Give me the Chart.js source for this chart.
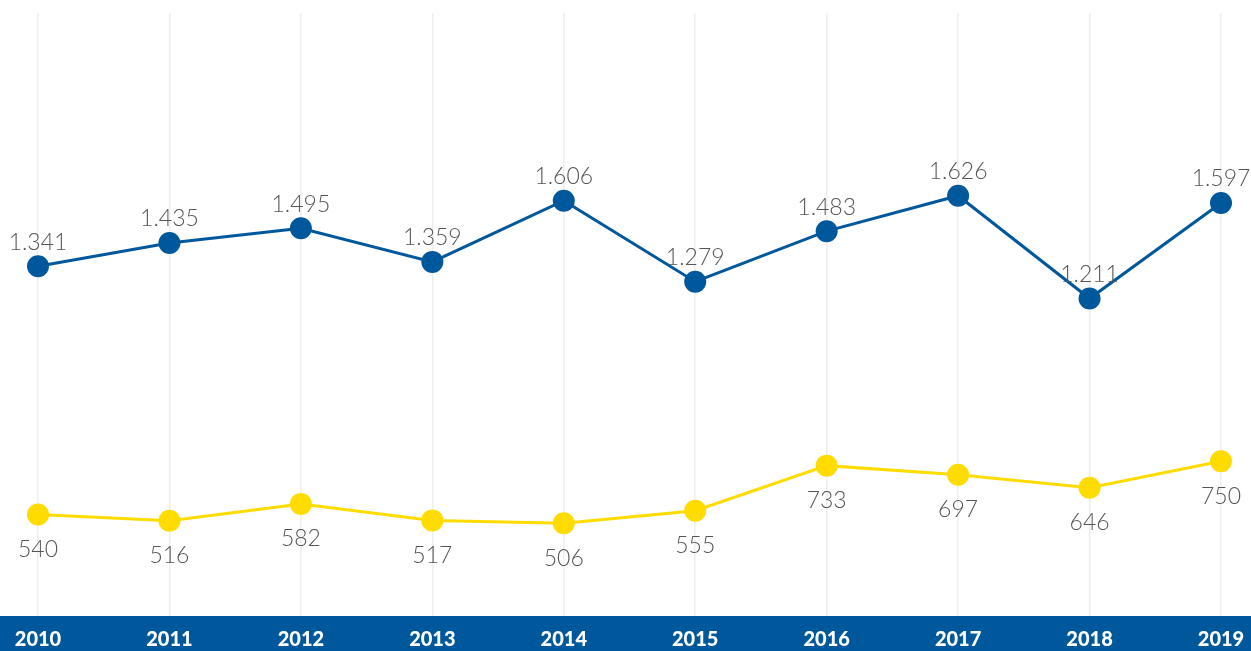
<!DOCTYPE html>
<html>
<head>
<meta charset="utf-8">
<script src="https://cdn.jsdelivr.net/npm/chart.js@4.4.0/dist/chart.umd.min.js"></script>
<style>
  html, body { margin: 0; padding: 0; background: #fff; }
  #wrap { width: 1251px; height: 651px; position: relative; }
</style>
</head>
<body>
<div id="wrap"><canvas id="lineChart"></canvas></div>
<script>
// Dados do gráfico
const years = ['2010', '2011', '2012', '2013', '2014', '2015', '2016', '2017', '2018', '2019'];
const blueValues = [1341, 1435, 1495, 1359, 1606, 1279, 1483, 1626, 1211, 1597];
const yellowValues = [540, 516, 582, 517, 506, 555, 733, 697, 646, 750];

const BLUE = '#00589c';
const YELLOW = '#ffdc00';
const BAND_H = 35;

// formato com ponto como separador de milhar
function fmt(v) {
  return String(v).replace(/\B(?=(\d{3})+(?!\d))/g, '.');
}

// faixa azul no rodapé + anos em branco
const bandPlugin = {
  id: 'band',
  beforeDraw(chart) {
    const c = chart.ctx;
    c.save();
    c.fillStyle = BLUE;
    c.fillRect(0, chart.height - BAND_H, chart.width, BAND_H);
    c.restore();
  },
  afterDraw(chart) {
    const c = chart.ctx;
    const x = chart.scales.x;
    c.save();
    c.fillStyle = '#ffffff';
    c.font = '900 20px Lato, "Open Sans", sans-serif';
    c.textAlign = 'center';
    c.textBaseline = 'middle';
    years.forEach((y, i) => {
      c.fillText(y, x.getPixelForValue(i), chart.height - BAND_H / 2 + 6);
    });
    c.restore();
  }
};

// rótulos de valores (azul acima, amarelo abaixo)
const labelPlugin = {
  id: 'valueLabels',
  afterDatasetsDraw(chart) {
    const c = chart.ctx;
    c.save();
    c.fillStyle = '#555555';
    c.font = '300 23px Lato, sans-serif';
    c.textAlign = 'center';
    c.textBaseline = 'middle';
    chart.data.datasets.forEach((ds, di) => {
      const meta = chart.getDatasetMeta(di);
      meta.data.forEach((pt, i) => {
        const dy = di === 0 ? -24 : 35;
        c.fillText(fmt(ds.data[i]), pt.x, pt.y + dy);
      });
    });
    c.restore();
  }
};

const ctx = document.getElementById('lineChart');
new Chart(ctx, {
  type: 'line',
  data: {
    labels: years,
    datasets: [{
      data: blueValues,
      borderColor: BLUE,
      backgroundColor: BLUE,
      borderWidth: 3,
      pointRadius: 11,
      pointHoverRadius: 11,
      pointBorderWidth: 0,
      yAxisID: 'yBlue',
      tension: 0
    }, {
      data: yellowValues,
      borderColor: YELLOW,
      backgroundColor: YELLOW,
      borderWidth: 3,
      pointRadius: 11,
      pointHoverRadius: 11,
      pointBorderWidth: 0,
      yAxisID: 'yYellow',
      tension: 0
    }]
  },
  options: {
    responsive: true,
    maintainAspectRatio: false,
    animation: false,
    layout: { padding: { left: 38, right: 30, top: 13, bottom: BAND_H } },
    plugins: {
      legend: { display: false },
      tooltip: { enabled: false }
    },
    scales: {
      x: {
        offset: false,
        border: { display: false },
        grid: { color: '#eeeeee', lineWidth: 1.5, drawTicks: false },
        ticks: { display: false }
      },
      yBlue: {
        display: false,
        min: -71,
        max: 2364
      },
      yYellow: {
        display: false,
        min: 140,
        max: 2518
      }
    }
  },
  plugins: [bandPlugin, labelPlugin]
});
</script>
</body>
</html>
